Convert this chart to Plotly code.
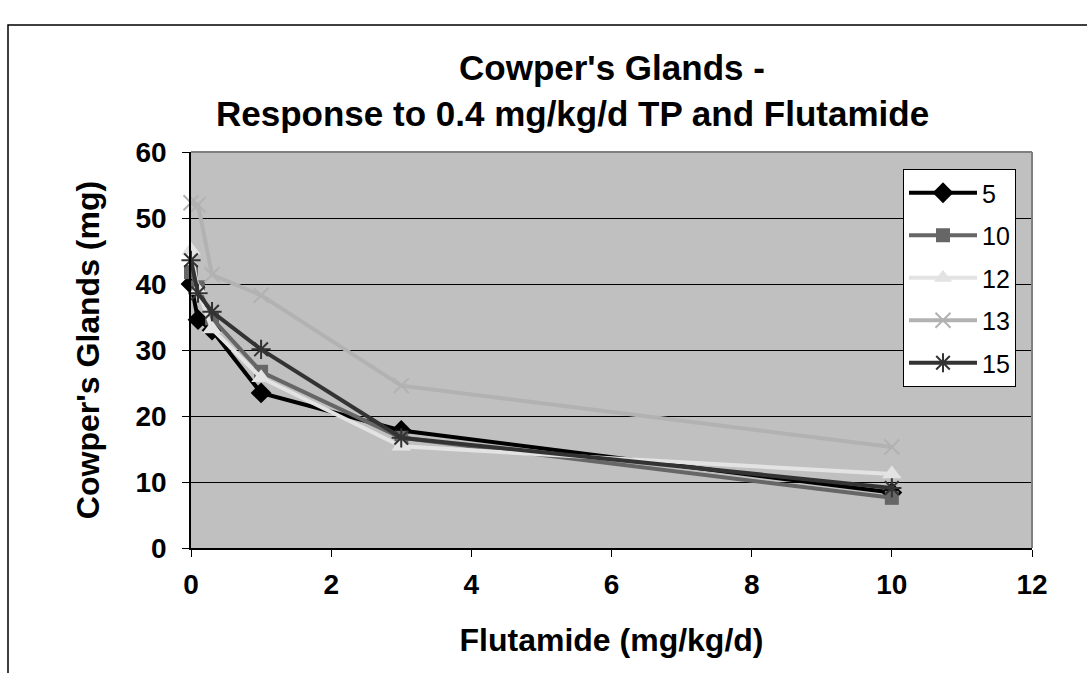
import plotly.graph_objects as go

# Flutamide dose (mg/kg/d) and Cowper's gland weights (mg) per study
flutamide = [0, 0.1, 0.3, 1, 3, 10]
series_names = ["5", "10", "12", "13", "15"]
cowper_5 = [40.0, 34.6, 33.0, 23.5, 17.8, 8.4]
cowper_10 = [41.8, 39.5, 34.8, 26.7, 16.7, 7.6]
cowper_12 = [45.1, 39.0, 33.2, 25.8, 15.4, 11.2]
cowper_13 = [52.3, 52.0, 41.4, 38.3, 24.6, 15.3]
cowper_15 = [43.6, 38.6, 35.8, 30.1, 16.7, 9.1]

x_ticks = [0, 2, 4, 6, 8, 10, 12]
y_ticks = [0, 10, 20, 30, 40, 50, 60]

FONT = "Liberation Sans, Arial, sans-serif"

styles = [
    dict(color="#000000", symbol="diamond", size=16, mw=0),
    dict(color="#666666", symbol="square", size=14, mw=0),
    dict(color="#E3E3E3", symbol="triangle-up", size=17, mw=0),
    dict(color="#B2B2B2", symbol="x-thin", size=15, mw=2),
    dict(color="#333333", symbol="asterisk", size=16, mw=2),
]
values = [cowper_5, cowper_10, cowper_12, cowper_13, cowper_15]

fig = go.Figure()
for name, ys, st in zip(series_names, values, styles):
    fig.add_trace(go.Scatter(
        x=flutamide, y=ys, name=name, mode="lines+markers",
        legendgroup=name,
        line=dict(color=st["color"], width=4),
        marker=dict(symbol=st["symbol"], size=st["size"], color=st["color"],
                    line=dict(color=st["color"], width=st["mw"])),
        cliponaxis=False,
    ))

# plot area occupies pixels x 191..1032, y 152..548
L, R, T, B = 191, 1032, 152, 548
def px(xp):
    return (xp - L) / (R - L)
def py(yp):
    return (B - yp) / (B - T)

fig.update_layout(
    width=1087, height=673,
    margin=dict(l=L, r=1087 - R, t=T, b=673 - B),
    paper_bgcolor="white",
    plot_bgcolor="#C0C0C0",
    font=dict(family=FONT, color="black"),
    showlegend=True,
    legend=dict(
        x=px(903), y=py(169), xanchor="left", yanchor="top",
        xref="paper", yref="paper",
        bgcolor="white", bordercolor="black", borderwidth=1,
        font=dict(size=25, family=FONT, color="black"),
        tracegroupgap=7, itemwidth=68,
    ),
)

fig.update_xaxes(
    range=[0, 12], tickvals=x_ticks, ticktext=[str(v) for v in x_ticks],
    showgrid=False, zeroline=False,
    showline=True, linecolor="black", linewidth=1.5,
    ticks="outside", ticklen=7, tickcolor="black", ticklabelstandoff=4,
    tickfont=dict(size=28, family=FONT, color="black", weight="bold"),
    title=dict(text="<b>Flutamide (mg/kg/d)</b>", font=dict(size=32, family=FONT), standoff=29),
)
fig.update_yaxes(
    range=[0, 60], tickvals=y_ticks, ticktext=[str(v) for v in y_ticks],
    showgrid=True, gridcolor="black", gridwidth=1.2, zeroline=False,
    showline=True, linecolor="black", linewidth=1.5,
    ticks="outside", ticklen=7, tickcolor="black", ticklabelstandoff=10,
    tickfont=dict(size=28, family=FONT, color="black", weight="bold"),
    title=dict(text="<b>Cowper's Glands (mg)</b>", font=dict(size=32, family=FONT), standoff=26),
)

# plot-area frame on top and right sides
fig.add_shape(type="line", xref="paper", yref="paper", x0=0, x1=1, y0=1, y1=1,
              line=dict(color="#808080", width=2))
fig.add_shape(type="line", xref="paper", yref="paper", x0=1, x1=1, y0=0, y1=1,
              line=dict(color="#808080", width=2))
# chart-area border
fig.add_shape(type="rect", xref="paper", yref="paper",
              x0=px(8), x1=px(1300), y0=py(760), y1=py(25),
              line=dict(color="black", width=1.5), layer="below")

fig.add_annotation(text="<b>Cowper's Glands -</b>", xref="paper", yref="paper",
                   x=px(612), y=py(68), xanchor="center", yanchor="middle", showarrow=False,
                   font=dict(size=35, family=FONT, color="black"))
fig.add_annotation(text="<b>Response to 0.4 mg/kg/d TP and Flutamide</b>", xref="paper", yref="paper",
                   x=px(572), y=py(113), xanchor="center", yanchor="middle", showarrow=False,
                   font=dict(size=35, family=FONT, color="black"))

fig.write_html("out.html")
